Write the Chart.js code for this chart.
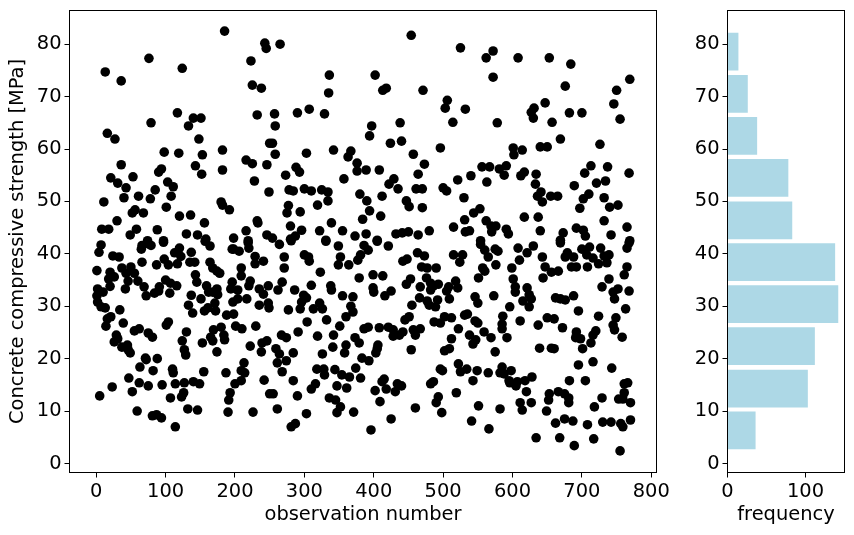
<!DOCTYPE html>
<html>
<head>
<meta charset="utf-8">
<title>Concrete compressive strength</title>
<script src="https://cdn.jsdelivr.net/npm/chart.js@4"></script>
<style>
  body { margin: 0; background: #fff; }
  canvas { position: absolute; top: 0; }
  #scatterChart { left: 0; }
  #histChart { left: 680px; }
</style>
</head>
<body>
<canvas id="scatterChart" width="680" height="535"></canvas>
<canvas id="histChart" width="174" height="535"></canvas>
<script>
// observation number and strength go pair by pair
const observationNumber = [
  185,243,245,76,223,124,13,36,225,238,117,232,140,151,79,133,16,27,148,182,250,98,119,153,216,225,36,246,143,94,90,182,152,53,21,31,103,228,111,43,85,249,61,40,108,78,11,180,182,192,101,56,52,68,120,136,156,30,232,233,8,18,58,49,88,130,146,158,216,246,198,74,97,219,
  7,4,66,65,75,79,97,120,113,122,137,24,33,157,164,198,196,206,219,220,229,229,241,98,104,117,66,87,135,142,164,168,174,178,1,20,26,18,20,37,50,43,55,46,60,42,69,72,91,90,84,100,107,116,106,143,145,209,209,196,194,204,222,220,235,241,248,159,162,174,175,168,137,151,2,10,1,2,7,13,34,21,16,39,14,217,204,197,235,248,249,133,139,171,161,156,172,188,198,104,101,201,210,230,62,55,75,81,180,169,184,185,165,168,130,124,153,29,31,26,37,45,46,49,127,129,174,222,238,239,246,71,72,88,63,82,110,111,155,187,213,209,214,47,242,62,75,95,114,127,140,149,209,200,23,52,5,126,123,107,193,191,250,59,81,87,94,132,146,190,226,114,
  454,265,525,336,402,335,418,413,471,506,503,532,307,290,329,257,258,514,438,397,394,424,440,254,258,496,342,367,363,303,457,376,473,288,293,389,376,408,273,464,357,521,429,422,435,500,505,461,470,278,284,300,310,325,334,380,412,530,334,390,447,451,277,275,319,294,470,394,384,410,339,280,531,515,532,296,287,280,322,355,373,389,405,432,441,450,464,480,331,254,
  264,281,331,349,386,392,405,421,271,300,306,307,352,381,377,349,364,271,323,463,448,442,473,469,477,490,515,528,524,399,413,379,268,310,262,286,338,339,453,447,476,467,482,493,482,486,518,508,521,505,399,400,425,416,299,303,296,355,370,466,477,509,492,480,489,322,313,326,294,367,370,360,277,455,332,304,451,445,531,512,502,496,487,351,392,386,408,421,428,428,437,442,457,467,460,522,291,267,274,319,342,373,379,512,360,341,259,264,406,405,403,358,454,509,502,284,326,383,393,274,261,522,374,318,328,344,329,268,496,499,525,354,365,381,284,415,412,418,316,310,347,361,486,482,434,440,431,402,255,290,519,336,345,352,493,490,409,261,460,303,371,347,498,425,287,281,396,
  572,562,608,653,684,572,769,676,750,746,647,631,627,630,682,700,578,657,755,669,726,601,614,602,640,650,556,567,581,591,588,713,737,704,768,617,612,634,540,563,633,689,721,734,641,636,655,665,643,710,702,732,752,740,697,553,544,617,637,562,576,569,570,591,594,732,765,640,673,692,702,705,742,538,669,769,554,
  669,554,560,565,575,579,608,630,621,610,643,700,711,727,707,716,739,732,736,724,679,676,688,768,765,576,599,557,560,551,647,656,666,644,685,692,708,765,761,601,604,604,739,729,745,752,747,768,621,624,615,627,624,546,550,573,662,669,676,688,596,763,695,535,586,611,724,749,650,660,637,672,546,550,585,585,745,747,758,559,569,592,692,691,698,720,716,713,538,547,543,701,639,656,660,575,716,695,743,534,549,565,585,582,598,588,628,618,607,595,596,605,543,682,705,766,761,620,653,652,666,675,681,681,729,761,753,759,611,627,614,649,770,718,551,582,675,687,662,708,730,742,756,759,770,541,566,634,668,689,717,755
];
const compressiveStrength = [
  82.5,80.2,79.2,77.3,76.8,75.4,74.7,73,72.2,71.6,66.9,66.5,65.9,65.9,65,64.4,63,61.9,61.9,59.8,61.1,59.4,59.2,58.9,57.9,57.2,57,57,56.8,56.2,55.6,56,55.2,54.7,54.5,53.5,53.7,53.9,52.8,52.6,52.2,51.8,51,50.7,51,50.5,49.9,49.9,49.3,48.4,48.9,48.4,47.8,47.8,47.2,47.4,45.9,46.3,46.3,45.9,44.7,44.7,44.7,43.6,44.6,43.8,43.6,42.8,44.4,43.6,43,42.5,42.5,42.5,
  41.7,40.3,41.6,40.9,41.9,41.6,42.2,41.1,40.2,39.5,40.3,39.6,39.4,42.4,41.5,40.9,40.9,40.5,42.1,41.1,39.5,38.1,38.6,39,37.9,38.1,38.4,37.9,38.4,38.4,38.4,37.3,36.7,36.3,36.8,36.5,35.6,35.2,33.8,37.3,37.5,36.3,36.3,34.8,34.8,33.3,33.7,32,33.7,32.9,32.5,35,34.4,33.9,32.5,36,34.6,37.3,35.8,34.6,33.3,33.1,34.8,33.9,33.3,32.3,33.9,33.9,32.7,33.3,32.2,32.7,32.1,31.4,33.3,32.7,32,30.8,29.9,29.7,29.3,28,27.6,26.8,26.2,31.4,31.4,30.8,30.2,30.6,29.7,30.2,28.7,30.6,29.7,29.1,29.1,28.3,28.5,27,26.4,26.2,25.7,26.2,25.7,25.3,24.9,24.1,26,25.5,24.5,23.6,24.1,23.4,25.1,23.4,23,24.5,23.8,23.2,22.2,22.6,21.7,21.1,21.7,20.7,21.3,22.4,21.3,23,23.4,20.1,19.8,20,18.4,17.7,18,17.3,17.5,17.3,19.2,17.7,17.3,16.3,15.9,15.4,14.8,15,15.2,15.4,15.6,15.2,15.8,15.2,14.6,13.7,12.9,13.5,12.7,12.5,13.5,12.1,13.3,10,9.1,9.3,8.7,10.4,10.2,9.8,9.8,7,
  81.7,80,79.3,74.1,74.1,70.7,71.6,71.2,71.2,69.3,67.8,67.6,67.6,66.9,66.7,66.7,64.4,65.1,65,64.4,62.5,61.1,61.5,61.1,59,60.2,59.8,59.6,58.5,59.2,59,57.3,57.1,56.5,55.6,56,55.8,56,55,55.2,54.3,54.1,54.3,53.3,52.4,52.6,52,52.4,52.4,52.2,52,52.4,52,52.2,51.8,51.4,51,50.7,50.1,50.1,50.1,49,49.2,47.8,49.3,48,48.8,48.2,46.6,47.2,45.9,45.3,46.5,45.1,44.2,44.5,43.4,42.8,44.4,44.4,43.4,43.8,42.6,43.8,44,44.2,43.6,44.4,42.6,43,
  41.8,42.5,42.4,41.5,41.6,40.7,42.4,41.5,39.4,39.8,39.4,38.6,39.4,39.8,38.8,37.9,37.9,37.3,36.5,40.2,39,38.6,39.6,37.5,37.3,37.3,39.8,39.8,38.4,36,35.8,35.4,34.6,34,33.1,33.1,33.9,33.1,35.2,34.2,35.4,33.7,34.4,34.2,33.1,33.9,34.8,33.7,33.5,32.9,33.5,32.7,32.9,32,32.1,31.6,30.8,32,31.8,31.6,31,31.4,31.2,30.2,29.9,30.6,29.5,29.5,29.5,30,28.9,28,29.3,30.2,27.4,27,28,27.4,28.3,27.8,28,26.8,27,26.2,26,25.7,25.9,26,25.5,24.3,24.5,25.1,25.5,25.7,24.5,25.7,25.1,24.5,24,24.3,24.5,24,23,23.8,22.6,22.2,21.9,20.9,22.6,21.9,21.1,21.1,21.7,21.9,21.5,21.1,20.9,20.1,19.6,19.6,19.2,19,18.2,18,18,17.9,16.9,17.5,18,17.7,17.5,16.9,16.5,16.3,15.8,16.1,15.6,14.2,15.2,14.2,14.8,14.4,15.6,15.2,15.2,14.8,13.7,13.9,13.3,12.9,13.5,12.5,12.1,10.8,12.7,11.6,11.8,10.4,10.6,9.5,9.8,9.7,9.7,8.5,7.6,7,6.4,
  78.7,77.4,77.4,77.4,76.2,73.7,73.3,72,71.2,68.6,68.8,67.8,67,65.9,66.9,66.9,65,65.1,65.7,61.9,60.9,60.2,59.8,58.9,60.4,60.4,56.6,56.6,56.2,56.8,55,56.8,56.6,55.4,55.4,55.6,54.9,55.2,54.9,53.7,53.3,53,53.5,53.9,51.8,51,51,51,49.9,51.4,50.5,50.7,49.3,48.9,48.7,48.6,47.8,47,47,46.3,45.3,45.3,44.2,44.7,43.8,46.3,45.1,44.4,44,44.9,44.5,43.4,43.6,44.4,42.6,42.5,42.5,
  42.1,41.8,40.7,39.4,40.9,40.5,41.1,41.5,40.2,38.8,39.4,40.9,41.3,41.1,39.8,39.2,39.8,39.6,38.3,38.1,40.2,39.4,39.4,42.1,41.1,37.9,37.3,37.3,36.7,35.4,37.5,36.5,36.7,35.4,37.5,37.5,37.5,37.5,36,35.2,33.7,32.7,35.2,33.7,32.7,33.3,31.4,32.9,33.5,32.2,31,31.4,29.9,31.8,30.6,32,31.6,31.4,31.2,32,29.9,29.5,29.1,28.5,28.1,27.2,28.1,27.8,27.8,27.6,26.4,25.9,27.2,26.8,26.6,25.7,26.4,25.5,24.1,25.1,24,24,25.1,24,23.8,25.3,24.5,23,24.5,23.6,22.8,21.9,22,22,21.9,21.3,19.4,18.8,18.2,18,17.7,17.3,18.4,17.3,17.7,17.1,16.5,15.8,15.6,15.8,15.4,14.8,15.8,15.8,15.8,15.4,15.2,13.7,13.3,12.1,13.7,13.3,12.5,11.6,12.5,13.5,12.3,12.3,11.6,11.6,10.2,10,11.6,10.8,11,10.4,8.5,8.1,7.7,7.4,7.9,7.9,7.6,7,8.3,8.1,6.6,4.9,4.9,3.4,4.7,2.4
];

// histogram
const binCenters = [6.3, 14.3, 22.4, 30.4, 38.4, 46.4, 54.5, 62.5, 70.5, 78.6];
const binCounts = [36, 103, 112, 142, 138, 83, 78, 38, 26, 14];

const scatterXTicks = [0, 100, 200, 300, 400, 500, 600, 700, 800];
const strengthTicks = [0, 10, 20, 30, 40, 50, 60, 70, 80];
const histXTicks = [0, 100];

const fontSpec = { family: 'DejaVu Sans', size: 19.44 };

// matplotlib style box around the axes
const framePlugin = {
    id: 'frame',
    afterDraw(chart) {
        const { ctx, chartArea: a } = chart;
        ctx.save();
        ctx.strokeStyle = '#000';
        ctx.lineWidth = 1;
        ctx.strokeRect(a.left, a.top, a.right - a.left, a.bottom - a.top);
        ctx.restore();
    }
};

function axis(min, max, tickValues, fitKey, fitSize, title) {
    return {
        type: 'linear',
        min: min,
        max: max,
        offset: false,
        afterBuildTicks: (scale) => { scale.ticks = tickValues.map((v) => ({ value: v })); },
        afterFit: (scale) => {
            scale[fitKey] = fitSize;
            // labels stay inside the box here, no need for the extra room
            scale.paddingTop = scale.paddingBottom = scale.paddingLeft = scale.paddingRight = 0;
        },
        grid: { offset: false, drawOnChartArea: false, color: '#000', tickLength: 5, tickWidth: 1 },
        border: { display: false },
        ticks: {
            color: '#000',
            font: fontSpec,
            padding: 3,
            maxRotation: 0,
            autoSkip: false,
            callback: (v) => String(v)
        },
        title: title
            ? { display: true, text: title, color: '#000', font: fontSpec, padding: { top: 0, bottom: 0 } }
            : { display: false }
    };
}

Chart.defaults.animation = false;
Chart.defaults.responsive = false;
Chart.defaults.devicePixelRatio = 1;

new Chart(document.getElementById('scatterChart'), {
    type: 'scatter',
    data: {
        datasets: [{
            data: observationNumber.map((n, i) => ({ x: n, y: compressiveStrength[i] })),
            backgroundColor: '#000',
            borderWidth: 0,
            pointRadius: 4.8
        }]
    },
    options: {
        layout: { padding: { left: 6, right: 23.5, top: 10.5, bottom: 8.5 } },
        plugins: { legend: { display: false }, tooltip: { enabled: false } },
        scales: {
            x: axis(-38.5, 807.5, scatterXTicks, 'height', 54, 'observation number'),
            y: axis(-1.72, 86.43, strengthTicks, 'width', 63.5, 'Concrete compressive strength [MPa]')
        }
    },
    plugins: [framePlugin]
});

new Chart(document.getElementById('histChart'), {
    type: 'bar',
    data: {
        datasets: [{
            data: binCenters.map((c, i) => ({ x: binCounts[i], y: c })),
            backgroundColor: 'lightblue',
            borderWidth: 0,
            categoryPercentage: 0.9,
            barPercentage: 1
        }]
    },
    options: {
        indexAxis: 'y',
        layout: { padding: { left: 0, right: 9.5, top: 10.5, bottom: 8.5 } },
        plugins: { legend: { display: false }, tooltip: { enabled: false } },
        scales: {
            x: axis(0, 150, histXTicks, 'height', 54, 'frequency'),
            y: axis(-1.72, 86.43, strengthTicks, 'width', 47.5, null)
        }
    },
    plugins: [framePlugin]
});
</script>
</body>
</html>
